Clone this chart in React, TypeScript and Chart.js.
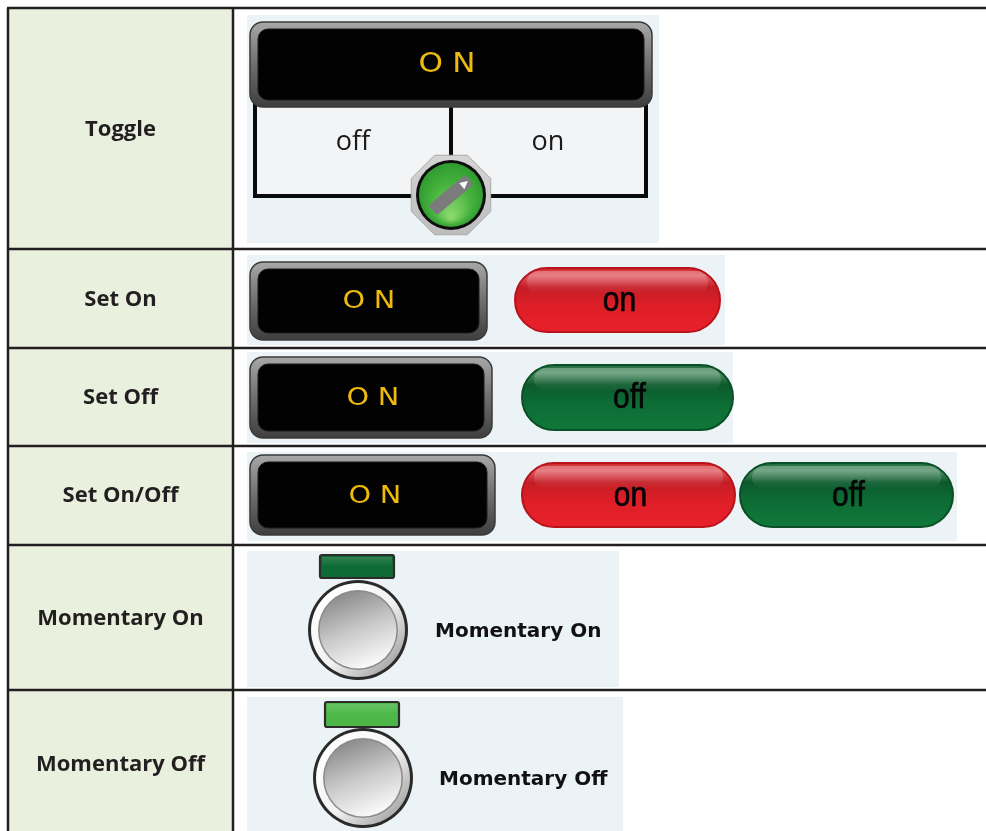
import React, { useEffect, useRef } from 'react';
import { Chart, registerables } from 'chart.js';

Chart.register(...registerables);

// ---- content ----
const rowLabels = ['Toggle', 'Set On', 'Set Off', 'Set On/Off', 'Momentary On', 'Momentary Off'];
const displayText = 'ON';
const toggleLabels = ['off', 'on'];
const pillLabels = ['on', 'off'];
const momentaryCaptions = ['Momentary On', 'Momentary Off'];

// ---- layout (pixel units of the hidden linear scales) ----
const W = 986;
const H = 831;
const TABLE_LEFT = 8;
const COL_X = 233;
const ROW_EDGES = [8, 249, 348, 446, 545, 690, 831];
const LABEL_Y = [130, 300, 398, 496, 619, 765];

type Ctx = CanvasRenderingContext2D;

function rr(ctx: Ctx, x: number, y: number, w: number, h: number, r: number) {
  const rad = Math.min(r, w / 2, h / 2);
  ctx.beginPath();
  ctx.moveTo(x + rad, y);
  ctx.lineTo(x + w - rad, y);
  ctx.arcTo(x + w, y, x + w, y + rad, rad);
  ctx.lineTo(x + w, y + h - rad);
  ctx.arcTo(x + w, y + h, x + w - rad, y + h, rad);
  ctx.lineTo(x + rad, y + h);
  ctx.arcTo(x, y + h, x, y + h - rad, rad);
  ctx.lineTo(x, y + rad);
  ctx.arcTo(x, y, x + rad, y, rad);
  ctx.closePath();
}

const tablePlugin = {
  id: 'tablePlugin',
  afterDraw(chart: any) {
    const ctx: Ctx = chart.ctx;
    const xs = chart.scales.x;
    const ys = chart.scales.y;
    const X = (v: number) => xs.getPixelForValue(v);
    const Y = (v: number) => ys.getPixelForValue(v);
    const S = X(1) - X(0);

    const box = (x0: number, y0: number, x1: number, y1: number) => ({
      x: X(x0), y: Y(y0), w: X(x1) - X(x0), h: Y(y1) - Y(y0),
    });

    ctx.save();

    ctx.fillStyle = '#ffffff';
    ctx.fillRect(X(0), Y(0), X(W) - X(0), Y(H) - Y(0));

    {
      const b = box(TABLE_LEFT, ROW_EDGES[0], COL_X, H);
      ctx.fillStyle = '#E9F0DE';
      ctx.fillRect(b.x, b.y, b.w, b.h);
    }

    const bgs: number[][] = [
      [247, 15, 659, 243],
      [247, 255, 725, 345],
      [247, 352, 733, 443],
      [247, 452, 957, 541],
      [247, 551, 619, 687],
      [247, 697, 623, 831],
    ];
    ctx.fillStyle = '#ECF3F6';
    bgs.forEach((r) => {
      const b = box(r[0], r[1], r[2], r[3]);
      ctx.fillRect(b.x, b.y, b.w, b.h);
    });

    const drawDisplay = (x0: number, y0: number, x1: number, y1: number, text: string, fs: number, cx: number, cy: number) => {
      const b = box(x0, y0, x1, y1);
      const g = ctx.createLinearGradient(0, b.y, 0, b.y + b.h);
      g.addColorStop(0, '#a8a8a8');
      g.addColorStop(0.5, '#6e6e6e');
      g.addColorStop(1, '#3e3e3e');
      rr(ctx, b.x, b.y, b.w, b.h, 13 * S);
      ctx.fillStyle = g;
      ctx.fill();
      ctx.lineWidth = 1.5 * S;
      ctx.strokeStyle = '#3a3a3a';
      ctx.stroke();
      const ix = b.x + 8 * S, iy = b.y + 7 * S, iw = b.w - 16 * S, ih = b.h - 14 * S;
      rr(ctx, ix, iy, iw, ih, 10 * S);
      ctx.fillStyle = '#020202';
      ctx.fill();
      ctx.lineWidth = 1 * S;
      ctx.strokeStyle = '#1c1c1c';
      ctx.stroke();
      // text
      const sp = fs * 0.3;
      ctx.save();
      ctx.translate(X(cx), Y(cy));
      ctx.scale(1.15, 1);
      (ctx as any).letterSpacing = `${sp * S}px`;
      ctx.font = `400 ${fs * S}px "DejaVu Sans", sans-serif`;
      ctx.fillStyle = '#EEBA0E';
      ctx.textAlign = 'center';
      ctx.textBaseline = 'middle';
      ctx.fillText(text, (sp * S) / 2, 1 * S);
      (ctx as any).letterSpacing = '0px';
      ctx.restore();
    };

    const drawPill = (x0: number, y0: number, x1: number, y1: number, kind: 'red' | 'green', text: string) => {
      const b = box(x0, y0, x1, y1);
      const g = ctx.createLinearGradient(0, b.y, 0, b.y + b.h);
      if (kind === 'red') {
        g.addColorStop(0, '#d2242c');
        g.addColorStop(0.12, '#e05a60');
        g.addColorStop(0.3, '#c41d25');
        g.addColorStop(0.6, '#df1e28');
        g.addColorStop(1, '#e8212b');
      } else {
        g.addColorStop(0, '#1a6a38');
        g.addColorStop(0.12, '#4f8d64');
        g.addColorStop(0.3, '#0c5a2c');
        g.addColorStop(0.6, '#0d6d35');
        g.addColorStop(1, '#10783b');
      }
      rr(ctx, b.x, b.y, b.w, b.h, b.h / 2);
      ctx.fillStyle = g;
      ctx.fill();
      ctx.lineWidth = 2 * S;
      ctx.strokeStyle = kind === 'red' ? '#b8121b' : '#0a4f25';
      ctx.stroke();
      const gl = ctx.createLinearGradient(0, b.y + 3 * S, 0, b.y + b.h * 0.4);
      gl.addColorStop(0, 'rgba(255,255,255,0.28)');
      gl.addColorStop(1, 'rgba(255,255,255,0)');
      rr(ctx, b.x + 12 * S, b.y + 3 * S, b.w - 24 * S, b.h * 0.36, b.h * 0.18);
      ctx.fillStyle = gl;
      ctx.fill();
      ctx.save();
      ctx.translate(b.x + b.w / 2 + 2 * S, b.y + b.h / 2 + 1 * S);
      ctx.scale(1, 1.15);
      ctx.font = `${30 * S}px "Liberation Sans", Arial, sans-serif`;
      ctx.fillStyle = '#050505';
      ctx.strokeStyle = '#050505';
      ctx.lineWidth = 0.6 * S;
      ctx.textAlign = 'center';
      ctx.textBaseline = 'middle';
      ctx.fillText(text, 0, 0);
      ctx.strokeText(text, 0, 0);
      ctx.restore();
    };

    const drawKnob = (cx: number, cy: number) => {
      const px = X(cx), py = Y(cy);
      ctx.beginPath();
      for (let i = 0; i < 8; i++) {
        const a = (Math.PI / 8) + (i * Math.PI) / 4;
        const r = 43 * S;
        const vx = px + r * Math.cos(a), vy = py + r * Math.sin(a);
        if (i === 0) ctx.moveTo(vx, vy); else ctx.lineTo(vx, vy);
      }
      ctx.closePath();
      const og = ctx.createLinearGradient(0, py - 43 * S, 0, py + 43 * S);
      og.addColorStop(0, '#d6d6d6');
      og.addColorStop(1, '#bcbcbc');
      ctx.fillStyle = og;
      ctx.fill();
      ctx.lineWidth = 1 * S;
      ctx.strokeStyle = '#aaaaaa';
      ctx.stroke();
      ctx.beginPath();
      ctx.arc(px, py, 35 * S, 0, Math.PI * 2);
      ctx.fillStyle = '#0e0e0e';
      ctx.fill();
      const gg = ctx.createRadialGradient(px, py + 22 * S, 2 * S, px, py, 33 * S);
      gg.addColorStop(0, '#8bd86f');
      gg.addColorStop(0.6, '#45b23d');
      gg.addColorStop(1, '#2f9a30');
      ctx.beginPath();
      ctx.arc(px, py, 32 * S, 0, Math.PI * 2);
      ctx.fillStyle = gg;
      ctx.fill();
      ctx.save();
      ctx.translate(px, py);
      ctx.rotate(-Math.PI * 0.22);
      rr(ctx, -24 * S, -6.5 * S, 48 * S, 13 * S, 3 * S);
      ctx.fillStyle = '#7b7b7b';
      ctx.fill();
      ctx.beginPath();
      ctx.moveTo(14 * S, -4 * S);
      ctx.lineTo(22 * S, 0);
      ctx.lineTo(14 * S, 4 * S);
      ctx.closePath();
      ctx.fillStyle = '#ffffff';
      ctx.fill();
      ctx.restore();
    };

    const drawMomentary = (bx0: number, by0: number, bx1: number, by1: number, barColor: string, cx: number, cy: number, caption: string, tx: number, ty: number) => {
      const b = box(bx0, by0, bx1, by1);
      ctx.fillStyle = barColor;
      rr(ctx, b.x, b.y, b.w, b.h, 2 * S);
      ctx.fill();
      ctx.lineWidth = 2.2 * S;
      ctx.strokeStyle = '#2c2c2c';
      ctx.stroke();
      const hl = ctx.createLinearGradient(0, b.y, 0, b.y + b.h);
      hl.addColorStop(0, 'rgba(255,255,255,0.18)');
      hl.addColorStop(0.5, 'rgba(255,255,255,0)');
      ctx.fillStyle = hl;
      ctx.fillRect(b.x + 2 * S, b.y + 2 * S, b.w - 4 * S, b.h - 4 * S);

      const px = X(cx), py = Y(cy);
      ctx.beginPath();
      ctx.arc(px, py, 50 * S, 0, Math.PI * 2);
      ctx.fillStyle = '#2a2a2a';
      ctx.fill();
      const rg = ctx.createLinearGradient(px - 35 * S, py - 35 * S, px + 35 * S, py + 35 * S);
      rg.addColorStop(0, '#ffffff');
      rg.addColorStop(0.55, '#f2f2f2');
      rg.addColorStop(1, '#a8a8a8');
      ctx.beginPath();
      ctx.arc(px, py, 47 * S, 0, Math.PI * 2);
      ctx.fillStyle = rg;
      ctx.fill();
      ctx.beginPath();
      ctx.arc(px, py, 40 * S, 0, Math.PI * 2);
      ctx.fillStyle = '#8a8a8a';
      ctx.fill();
      const dg = ctx.createLinearGradient(px - 15 * S, py - 39 * S, px + 15 * S, py + 39 * S);
      dg.addColorStop(0, '#888888');
      dg.addColorStop(0.5, '#cacaca');
      dg.addColorStop(1, '#ffffff');
      ctx.beginPath();
      ctx.arc(px, py, 38.5 * S, 0, Math.PI * 2);
      ctx.fillStyle = dg;
      ctx.fill();

      ctx.font = `bold ${20 * S}px "DejaVu Sans", sans-serif`;
      ctx.fillStyle = '#111111';
      ctx.textAlign = 'left';
      ctx.textBaseline = 'middle';
      ctx.fillText(caption, X(tx), Y(ty));
    };

    // Row 1: toggle
    {
      const b = box(255, 100, 646, 196);
      ctx.fillStyle = '#F3F4F6';
      ctx.fillRect(b.x, b.y, b.w, b.h);
      ctx.strokeStyle = '#0a0a0a';
      ctx.lineWidth = 4 * S;
      ctx.lineCap = 'butt';
      ctx.beginPath();
      ctx.moveTo(X(255), Y(100));
      ctx.lineTo(X(255), Y(196));
      ctx.lineTo(X(646), Y(196));
      ctx.lineTo(X(646), Y(100));
      ctx.moveTo(X(451), Y(100));
      ctx.lineTo(X(451), Y(165));
      ctx.stroke();
      ctx.font = `${27 * S}px "Open Sans", sans-serif`;
      ctx.fillStyle = '#1a1a1a';
      ctx.textAlign = 'center';
      ctx.textBaseline = 'middle';
      ctx.fillText(toggleLabels[0], X(353), Y(142));
      ctx.fillText(toggleLabels[1], X(548), Y(142));
      drawDisplay(250, 22, 652, 107, displayText, 27, 447, 64);
      drawKnob(451, 195);
    }

    drawDisplay(250, 262, 487, 340, displayText, 25, 369, 300);
    drawPill(515, 268, 720, 332, 'red', pillLabels[0]);
    drawDisplay(250, 357, 492, 438, displayText, 25, 373, 397);
    drawPill(522, 365, 733, 430, 'green', pillLabels[1]);
    drawDisplay(250, 455, 495, 535, displayText, 25, 375, 495);
    drawPill(522, 463, 735, 527, 'red', pillLabels[0]);
    drawPill(740, 463, 953, 527, 'green', pillLabels[1]);
    drawMomentary(320, 555, 394, 578, '#0E6B33', 358, 630, momentaryCaptions[0], 435, 632);
    drawMomentary(325, 702, 399, 727, '#4DB848', 363, 778, momentaryCaptions[1], 439, 780);

    ctx.font = `bold ${22 * S}px "Open Sans", sans-serif`;
    ctx.fillStyle = '#231F20';
    ctx.textAlign = 'center';
    ctx.textBaseline = 'middle';
    rowLabels.forEach((lab, i) => {
      ctx.fillText(lab, X((TABLE_LEFT + COL_X) / 2), Y(LABEL_Y[i]));
    });

    ctx.strokeStyle = '#231F20';
    ctx.lineWidth = 2.5 * S;
    ctx.lineCap = 'butt';
    ctx.beginPath();
    ROW_EDGES.slice(0, -1).forEach((e) => {
      ctx.moveTo(X(TABLE_LEFT - 1), Y(e));
      ctx.lineTo(X(W), Y(e));
    });
    ctx.moveTo(X(TABLE_LEFT), Y(ROW_EDGES[0]));
    ctx.lineTo(X(TABLE_LEFT), Y(H));
    ctx.moveTo(X(COL_X), Y(ROW_EDGES[0]));
    ctx.lineTo(X(COL_X), Y(H));
    ctx.stroke();

    ctx.restore();
  },
};

export default function App() {
  const ref = useRef<HTMLCanvasElement | null>(null);
  useEffect(() => {
    if (!ref.current) return;
    const chart = new Chart(ref.current, {
      type: 'scatter',
      data: { datasets: [{ label: 'rows', data: [] }] },
      options: {
        animation: false,
        responsive: false,
        events: [],
        layout: { padding: 0 },
        plugins: { legend: { display: false }, tooltip: { enabled: false } },
        scales: {
          x: { type: 'linear', min: 0, max: W, display: false },
          y: { type: 'linear', min: 0, max: H, reverse: true, display: false },
        },
      },
      plugins: [tablePlugin],
    } as any);
    return () => chart.destroy();
  }, []);
  return (
    <div style={{ position: 'absolute', left: 0, top: 0, width: W, height: H, background: '#fff' }}>
      <canvas ref={ref} width={W} height={H} style={{ display: 'block', width: W, height: H }} />
    </div>
  );
}
